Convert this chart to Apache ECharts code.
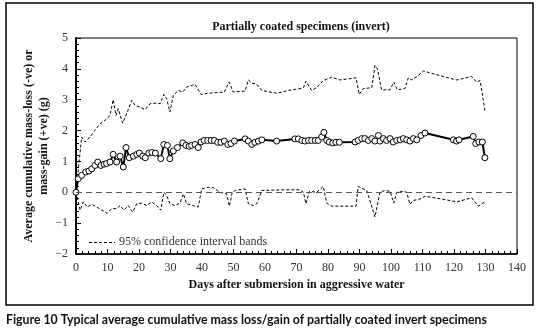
<!DOCTYPE html>
<html>
<head>
<meta charset="utf-8">
<script src="https://cdn.jsdelivr.net/npm/echarts@6/dist/echarts.min.js"></script>
<style>
  html, body { margin: 0; padding: 0; background: #fff; }
  #main { width: 539px; height: 333px; }
</style>
</head>
<body>
<div id="main"></div>
<script>
// average cumulative mass change (g) vs days
let meanDays = [0,0.7,1.8,3.1,4.1,5.0,6.0,6.9,7.9,8.9,9.7,10.8,11.8,12.9,14.0,15.0,15.9,16.9,18.2,19.3,20.1,21.2,22.0,23.1,24.1,25.2,26.9,27.9,29.0,29.8,30.9,32.2,33.9,34.9,35.9,36.7,37.8,38.8,39.7,40.7,41.8,42.9,43.9,45.0,46.0,47.1,48.2,49.2,50.3,53.7,54.7,55.8,56.8,57.9,59.0,63.7,69.5,70.6,71.7,72.7,73.8,74.8,75.9,76.9,78.0,78.7,79.6,80.4,81.5,82.5,83.6,88.6,89.6,90.7,91.7,92.8,93.9,94.9,96.0,96.5,97.6,98.6,99.7,100.7,101.8,102.9,103.9,105.0,106.0,107.1,108.2,109.5,110.8,119.8,120.8,121.6,126.1,126.9,127.9,129.0,129.8];
let meanVals = [0,0.44,0.55,0.66,0.69,0.76,0.87,0.98,0.87,0.91,0.93,0.98,1.23,0.98,1.17,0.82,1.45,1.12,1.17,1.23,1.27,1.17,1.12,1.27,1.29,1.27,1.09,1.55,1.52,1.09,1.34,1.45,1.6,1.52,1.49,1.52,1.55,1.45,1.63,1.68,1.68,1.68,1.68,1.62,1.62,1.66,1.55,1.58,1.66,1.73,1.66,1.55,1.62,1.66,1.70,1.66,1.73,1.73,1.68,1.66,1.68,1.68,1.68,1.68,1.79,1.94,1.68,1.63,1.60,1.62,1.62,1.63,1.68,1.74,1.74,1.68,1.74,1.66,1.84,1.66,1.74,1.68,1.74,1.63,1.68,1.70,1.74,1.70,1.66,1.74,1.70,1.84,1.92,1.70,1.66,1.70,1.81,1.58,1.63,1.63,1.12];

// 95% confidence bands
let upperDays = [0,1.8,2.9,4.4,6.0,7.6,9.2,10.8,11.8,12.7,13.4,14.8,16.1,17.7,18.7,20.3,21.9,23.5,25.4,26.7,27.9,28.8,29.8,30.9,32.5,33.9,35.1,37.8,39.7,42.0,47.1,48.6,49.9,53.7,54.7,55.8,57.4,59.0,63.7,67.4,71.1,72.2,73.0,74.8,76.4,78.5,81.2,83.8,88.9,89.9,91.2,93.9,94.9,95.7,97.0,99.7,100.9,102.0,104.4,105.5,106.6,108.2,110.3,116.6,120.9,125.6,127.2,128.3,129.8];
let upperVals = [0,1.79,1.63,1.79,2.0,2.22,2.33,2.49,3.0,2.49,2.71,2.24,2.55,2.98,2.82,2.76,2.68,2.87,2.89,2.87,3.17,3.03,2.6,3.14,3.3,3.25,3.41,3.5,3.17,3.21,3.25,3.57,3.25,3.28,3.64,3.54,3.5,3.3,3.21,3.3,3.36,3.39,3.6,3.3,3.39,3.62,3.73,3.64,3.71,3.17,3.36,3.39,4.11,4.0,3.32,3.32,3.57,3.32,3.36,3.71,3.64,3.75,3.93,3.75,3.64,3.75,3.57,3.62,2.65];
let lowerDays = [0,1.3,2.3,3.6,5.0,6.6,8.2,9.9,11.3,12.9,14.0,15.2,16.6,18.0,19.3,20.9,22.4,24.0,25.6,26.9,27.9,28.8,29.8,31.4,33.0,34.1,35.1,37.2,38.8,39.9,42.0,43.6,45.7,47.8,48.7,49.6,50.6,53.7,54.7,56.3,57.4,59.0,66.3,71.1,72.2,73.0,74.1,76.4,78.5,79.6,81.2,84.9,88.9,89.6,92.3,94.9,96.5,98.1,99.7,100.9,101.8,103.9,105.0,106.0,107.1,108.7,110.8,115.6,120.9,125.6,127.7,129.8];
let lowerVals = [0,-0.58,-0.31,-0.48,-0.39,-0.48,-0.58,-0.68,-0.53,-0.53,-0.43,-0.58,-0.43,-0.64,-0.37,-0.35,-0.43,-0.31,-0.43,-0.58,0,-0.1,-0.37,-0.43,-0.35,-0.05,-0.37,-0.43,-0.48,0.11,0.16,0.15,0,-0.05,-0.45,0,0.06,0.11,-0.37,-0.43,-0.37,0.06,0.08,0.08,0,-0.37,0.03,0,0.19,-0.35,-0.45,-0.45,-0.45,0.19,0.06,-0.8,0,0.06,0.03,-0.35,0,0.03,0,-0.39,-0.26,-0.24,-0.13,-0.21,-0.31,-0.18,-0.45,-0.31];

let xTicks = [0,140,10];
let yTicks = [-2,5,1];

function pairs(xs, ys){
  return xs.map(function(x, i){ return [x, ys[i]]; });
}

let serif = '"Liberation Serif", "DejaVu Serif", serif';
let bandName = '95% confidence interval bands';
let yName = 'Average cumulative mass-loss (-ve) or\nmass-gain (+ve) (g)';

let TChart = echarts.init(document.getElementById('main'));
let option = {
  backgroundColor: '#fff',
  animation: false,
  title: {
    text: 'Partially coated specimens (invert)',
    left: 296, top: 16, textAlign: 'center',
    textStyle: { fontFamily: serif, fontSize: 12, fontWeight: 'bold', color: '#111' }
  },
  grid: { left: 76, right: 22, top: 38, bottom: 79, show: true, borderColor: '#000', borderWidth: 1 },
  xAxis: {
    type: 'value', min: xTicks[0], max: xTicks[1], interval: xTicks[2],
    name: 'Days after submersion in aggressive water',
    nameLocation: 'middle', nameGap: 24,
    nameTextStyle: { fontFamily: serif, fontSize: 12, fontWeight: 'bold', color: '#111' },
    axisLine: { onZero: false, lineStyle: { color: '#000', width: 1.5 } },
    axisTick: { inside: true, length: 5, lineStyle: { color: '#000' } },
    minorTick: { show: true, splitNumber: 5, length: 3, lineStyle: { color: '#000' } },
    splitLine: { show: false },
    axisLabel: { fontFamily: serif, fontSize: 12, color: '#333', margin: 8 }
  },
  yAxis: {
    type: 'value', min: yTicks[0], max: yTicks[1], interval: yTicks[2],
    axisLine: { onZero: false, lineStyle: { color: '#000', width: 2 } },
    axisTick: { inside: true, length: 5, lineStyle: { color: '#000' } },
    minorTick: { show: true, splitNumber: 5, length: 3, lineStyle: { color: '#000' } },
    splitLine: { show: false },
    axisLabel: {
      fontFamily: serif, fontSize: 12, color: '#333', margin: 8,
      formatter: function(v){ return String(v).replace('-', '\u2212'); }
    }
  },
  series: [
    {
      name: bandName, type: 'line', data: pairs(upperDays, upperVals),
      symbol: 'none', z: 2,
      lineStyle: { color: '#000', width: 1, type: [3, 2] }
    },
    {
      name: bandName, type: 'line', data: pairs(lowerDays, lowerVals),
      symbol: 'none', z: 2,
      lineStyle: { color: '#000', width: 1, type: [3, 2] },
      markLine: {
        silent: true, symbol: 'none', label: { show: false },
        lineStyle: { color: '#555', width: 1.2, type: [6, 4] },
        data: [{ yAxis: 0 }]
      }
    },
    {
      name: 'Average', type: 'line', data: pairs(meanDays, meanVals),
      symbol: 'circle', symbolSize: 6, z: 3,
      lineStyle: { color: '#000', width: 2 },
      itemStyle: { color: '#fff', borderColor: '#000', borderWidth: 1 }
    }
  ],
  graphic: [
    {
      type: 'rect', silent: true, z: -1,
      shape: { x: 6, y: 3, width: 527, height: 302 },
      style: { fill: 'none', stroke: '#000', lineWidth: 1.5 }
    },
    {
      // legend key
      type: 'line', silent: true,
      shape: { x1: 89, y1: 242.5, x2: 115, y2: 242.5 },
      style: { stroke: '#000', lineWidth: 1, lineDash: [3, 2] }
    },
    {
      type: 'text', x: 119, y: 242,
      style: {
        text: bandName, textVerticalAlign: 'middle',
        font: '12px "Liberation Serif", serif', fill: '#333'
      }
    },
    {
      // y axis title, two rotated lines
      type: 'text', x: 36, y: 146, rotation: Math.PI / 2,
      style: {
        text: yName, textAlign: 'center', textVerticalAlign: 'middle',
        font: 'bold 12px "Liberation Serif", serif', fill: '#111', lineHeight: 15
      }
    },
    {
      type: 'text', left: 6, top: 314,
      style: {
        text: 'Figure 10 Typical average cumulative mass loss/gain of partially coated invert specimens',
        font: 'bold 12.3px Lato, "Noto Sans", sans-serif', fill: '#111'
      }
    }
  ]
};
TChart.setOption(option);
</script>
</body>
</html>
